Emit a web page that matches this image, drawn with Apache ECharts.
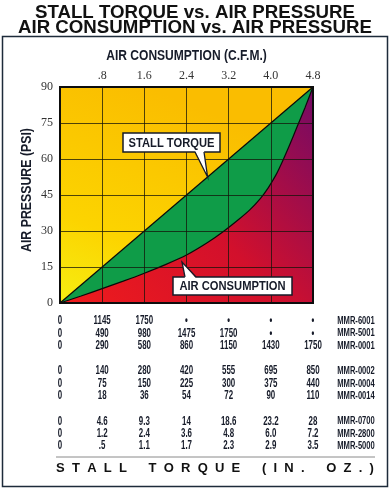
<!DOCTYPE html>
<html><head><meta charset="utf-8">
<script src="https://cdn.jsdelivr.net/npm/echarts@6/dist/echarts.min.js"></script>
<style>html,body{margin:0;padding:0;background:#fff}#c{width:390px;height:490px}</style>
</head><body><div id="c"></div>
<script>
// ---- data ----
const cfmTicks = [0, 0.8, 1.6, 2.4, 3.2, 4.0, 4.8];
const xTickLabels = ['', '.8', '1.6', '2.4', '3.2', '4.0', '4.8'];
const stallTorqueLine = [[0, 0], [4.8, 90]];
const airConsumption = [[0,0],[0.4,2.9],[0.8,6],[1.2,9.1],[1.6,12.4],[2.0,16],[2.4,20],[2.8,25.2],[3.1,29.8],[3.4,35],[3.6,38.8],[3.8,43.5],[3.95,48],[4.1,53.5],[4.22,59],[4.35,65.5],[4.5,73.5],[4.65,81.5],[4.8,90]];
const topFill = [[0, 90], [4.8, 90]];
const models = ['MMR-6001','MMR-5001','MMR-0001','MMR-0002','MMR-0004','MMR-0014','MMR-0700','MMR-2800','MMR-5000'];
const torqueRows = [
  ['0','1145','1750','•','•','•','•'],
  ['0','490','980','1475','1750','•','•'],
  ['0','290','580','860','1150','1430','1750'],
  ['0','140','280','420','555','695','850'],
  ['0','75','150','225','300','375','440'],
  ['0','18','36','54','72','90','110'],
  ['0','4.6','9.3','14','18.6','23.2','28'],
  ['0','1.2','2.4','3.6','4.8','6.0','7.2'],
  ['0','.5','1.1','1.7','2.3','2.9','3.5']
];
const titleText = 'STALL TORQUE vs. AIR PRESSURE\nAIR CONSUMPTION vs. AIR PRESSURE';
const xName = 'AIR CONSUMPTION (C.F.M.)';
const yName = 'AIR PRESSURE (PSI)';
const footerText = 'S  T  A  L  L      T  O  R  Q  U  E      (  I  N  .      O  Z  .  )';
const stallLabel = 'STALL TORQUE';
const consLabel = 'AIR CONSUMPTION';

// ---- chart ----
const SANS = "'Liberation Sans',Arial,sans-serif";
const SERIF = "'Liberation Serif','DejaVu Serif',serif";
const INK = '#161b29';
const chart = echarts.init(document.getElementById('c'), null, {renderer: 'canvas'});
const G = {left: 60, right: 77, top: 87, bottom: 187};
chart.setOption({
  animation: false,
  backgroundColor: '#fff',
  title: {
    text: titleText, left: 'center', top: 0,
    textStyle: {fontFamily: SANS, fontWeight: 'bold', fontSize: 18.7, lineHeight: 15, color: '#111'}
  },
  grid: G,
  xAxis: {
    type: 'value', position: 'top', min: 0, max: 4.8, interval: 0.8, z: 5,
    axisLine: {show: false}, axisTick: {show: false},
    axisLabel: {margin: 5, fontFamily: SERIF, fontSize: 12, color: '#333',
      formatter: v => { const i = cfmTicks.findIndex(t => Math.abs(t - v) < 1e-6); return i >= 0 ? xTickLabels[i] : ''; }},
    splitLine: {show: true, lineStyle: {color: 'rgba(20,20,10,0.75)', width: 1}}
  },
  yAxis: {
    type: 'value', min: 0, max: 90, interval: 15, z: 5,
    axisLine: {show: false}, axisTick: {show: false},
    axisLabel: {margin: 7, fontFamily: SERIF, fontSize: 12, color: '#333'},
    splitLine: {show: true, lineStyle: {color: 'rgba(20,20,10,0.75)', width: 1}}
  },
  series: [
    {type: 'line', data: topFill, symbol: 'none', z: 1, lineStyle: {width: 0},
     areaStyle: {opacity: 1, color: new echarts.graphic.LinearGradient(0, 1, 0.35, 0, [
       {offset: 0, color: '#f6ee12'}, {offset: 0.35, color: '#fcd400'}, {offset: 1, color: '#fabd00'}])}},
    {type: 'line', data: stallTorqueLine, symbol: 'none', z: 2, lineStyle: {width: 1.2, color: '#0a0a0a'},
     areaStyle: {opacity: 1, color: '#0f9c48'}},
    {type: 'line', data: airConsumption, symbol: 'none', z: 3, smooth: 0.25,
     lineStyle: {width: 1.2, color: '#0a0a0a'},
     areaStyle: {opacity: 1, color: new echarts.graphic.LinearGradient(0, 1, 1, 0, [
       {offset: 0, color: '#f01c1c'}, {offset: 0.5, color: '#d2102c'}, {offset: 1, color: '#720a66'}])}}
  ]
});

// ---- annotations & table ----
const px = v => chart.convertToPixel({xAxisIndex: 0}, v);
const py = v => chart.convertToPixel({yAxisIndex: 0}, v);
const x0 = px(0), x1 = px(4.8), y0 = py(0), y1 = py(90);
const g = [];
// outer frame
g.push({type: 'rect', shape: {x: 2.5, y: 36.5, width: 385, height: 450}, style: {fill: 'none', stroke: '#1d2b3a', lineWidth: 1.5}, z: 1});
// plot border
g.push({type: 'rect', shape: {x: x0, y: y1, width: x1 - x0, height: y0 - y1}, style: {fill: 'none', stroke: '#0d0d0d', lineWidth: 2}, z: 20});
// axis names (condensed)
g.push({type: 'text', x: (x0 + x1) / 2, y: 56, scaleX: 0.86, style: {text: xName, fontFamily: SANS, fontWeight: 'bold', fontSize: 14, fill: INK, align: 'center', verticalAlign: 'middle'}, z: 10});
g.push({type: 'text', x: 27, y: 190, rotation: Math.PI / 2, scaleX: 0.88, style: {text: yName, fontFamily: SANS, fontWeight: 'bold', fontSize: 14, fill: INK, align: 'center', verticalAlign: 'middle'}, z: 10});
function callout(bx, by, bw, bh, base1, base2, tip, text, up) {
  g.push({type: 'rect', shape: {x: bx, y: by, width: bw, height: bh}, style: {fill: '#fff', stroke: INK, lineWidth: 1.5}, z: 30});
  const be = up ? by : by + bh;
  const off = up ? 1.2 : -1.2;
  g.push({type: 'polygon', shape: {points: [[base1, be + off], tip, [base2, be + off]]}, style: {fill: '#fff', stroke: null}, z: 31});
  g.push({type: 'polyline', shape: {points: [[base1, be], tip, [base2, be]]}, style: {fill: null, stroke: INK, lineWidth: 1.3}, z: 32});
  g.push({type: 'text', x: bx + bw / 2, y: by + bh / 2 + 0.5, scaleX: 0.86, style: {text: text, fontFamily: SANS, fontWeight: 'bold', fontSize: 13, fill: INK, align: 'center', verticalAlign: 'middle'}, z: 33});
}
callout(123, 133, 97, 19, 195, 204, [px(2.8), py(52.5)], stallLabel, false);
callout(173, 277, 119, 18, 185, 196, [182, 262], consLabel, true);
// table
const rowGap = 12.3, groupGap = 25.5;
torqueRows.forEach((row, r) => {
  const grp = Math.floor(r / 3), k = r % 3;
  const y = 321 + grp * (2 * rowGap + groupGap) + k * rowGap;
  row.forEach((val, c) => {
    g.push({type: 'text', x: px(cfmTicks[c]), y: y, scaleX: 0.66, style: {text: val, fontFamily: SANS, fontWeight: 'bold', fontSize: 12, fill: INK, align: 'center', verticalAlign: 'middle'}, z: 10});
  });
  g.push({type: 'text', x: 356, y: y, scaleX: 0.66, style: {text: models[r], fontFamily: SANS, fontWeight: 'bold', fontSize: 11.5, fill: INK, align: 'center', verticalAlign: 'middle'}, z: 10});
});
g.push({type: 'line', shape: {x1: 56, y1: 457, x2: 375, y2: 457}, style: {stroke: '#8a8a8a', lineWidth: 1}, z: 10});
g.push({type: 'text', x: 215, y: 468, style: {text: footerText, fontFamily: SANS, fontWeight: 'bold', fontSize: 13, fill: '#111', align: 'center', verticalAlign: 'middle'}, z: 10});
chart.setOption({graphic: g});
</script></body></html>
